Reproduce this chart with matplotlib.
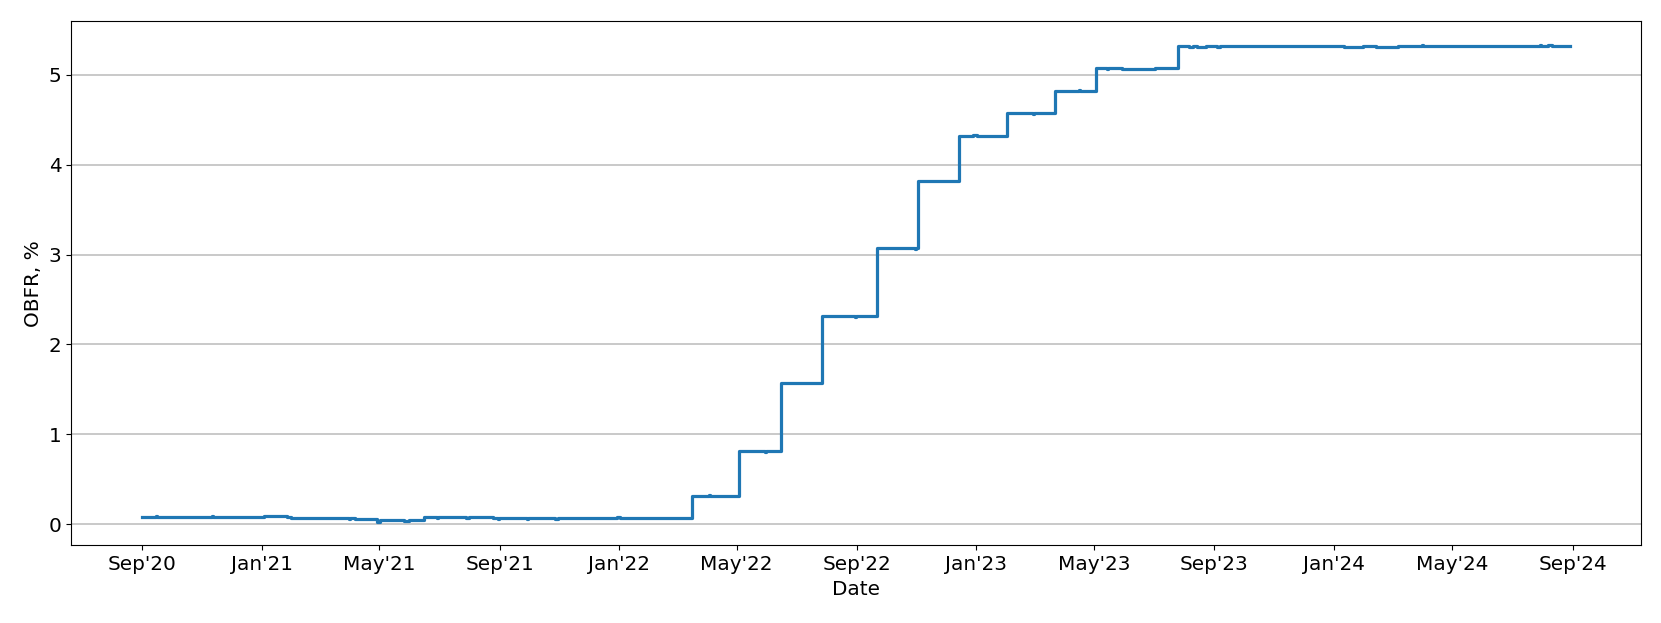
import matplotlib
matplotlib.use("Agg")
import matplotlib.pyplot as plt
import matplotlib.dates as mdates
import pandas as pd

# Step-change dates and OBFR levels (%)
change_dates = [
    "2020-09-01", "2020-09-15", "2020-09-16", "2020-11-11", "2020-11-12",
    "2021-01-03", "2021-01-27", "2021-01-31", "2021-02-01",
    "2021-03-31", "2021-04-01", "2021-04-06", "2021-04-29", "2021-05-02",
    "2021-05-26", "2021-05-31", "2021-06-16",
    "2021-06-29", "2021-06-30", "2021-07-29", "2021-08-01", "2021-08-25",
    "2021-08-30", "2021-08-31", "2021-09-29", "2021-09-30", "2021-10-28",
    "2021-10-31", "2021-12-30", "2022-01-02",
    "2022-03-16", "2022-04-03", "2022-04-04",
    "2022-05-04", "2022-05-30", "2022-05-31",
    "2022-06-15", "2022-07-27", "2022-08-30", "2022-08-31",
    "2022-09-21", "2022-10-30", "2022-10-31", "2022-11-02",
    "2022-12-14", "2022-12-29", "2023-01-02",
    "2023-02-01", "2023-02-28", "2023-03-01", "2023-03-22",
    "2023-04-16", "2023-04-17", "2023-05-03", "2023-05-14", "2023-05-15",
    "2023-05-30", "2023-05-31", "2023-06-14", "2023-07-02",
    "2023-07-26", "2023-08-06", "2023-08-10", "2023-08-14", "2023-08-24",
    "2023-09-04", "2023-09-07",
    "2024-01-11", "2024-01-31", "2024-02-13", "2024-03-07",
    "2024-03-31", "2024-04-01",
    "2024-07-30", "2024-07-31", "2024-08-07", "2024-08-11", "2024-08-29",
]
obfr_values = [
    0.08, 0.09, 0.08, 0.09, 0.08,
    0.09, 0.08, 0.07, 0.07,
    0.06, 0.07, 0.06, 0.03, 0.05,
    0.04, 0.05, 0.08,
    0.07, 0.08, 0.07, 0.08, 0.07,
    0.06, 0.07, 0.06, 0.07, 0.06,
    0.07, 0.08, 0.07,
    0.32, 0.33, 0.32,
    0.82, 0.81, 0.82,
    1.57, 2.32, 2.31, 2.32,
    3.07, 3.06, 3.07, 3.82,
    4.32, 4.33, 4.32,
    4.57, 4.56, 4.57, 4.82,
    4.83, 4.82, 5.07, 5.06, 5.07,
    5.06, 5.06, 5.06, 5.07,
    5.32, 5.31, 5.32, 5.31, 5.32,
    5.31, 5.32,
    5.31, 5.32, 5.31, 5.32,
    5.33, 5.32,
    5.33, 5.32, 5.33, 5.32, 5.32,
]

dates = pd.to_datetime(change_dates)

fig = plt.figure(figsize=(16.61, 6.23), dpi=100)
ax = fig.add_axes([0.0427, 0.1244, 0.9453, 0.8416])

ax.plot(dates, obfr_values, drawstyle="steps-post", color="#1f77b4", linewidth=2.3)

ax.xaxis.set_major_locator(mdates.MonthLocator(bymonth=[1, 5, 9]))
ax.xaxis.set_major_formatter(mdates.DateFormatter("%b'%y"))
ax.yaxis.grid(True, color="#c0c0c0", linewidth=1.2)
ax.set_axisbelow(True)

ax.tick_params(labelsize=14.4)
ax.set_xlabel("Date", fontsize=14.4)
ax.set_ylabel("OBFR, %", fontsize=14.4)

fig.savefig("out.png", dpi=100)
